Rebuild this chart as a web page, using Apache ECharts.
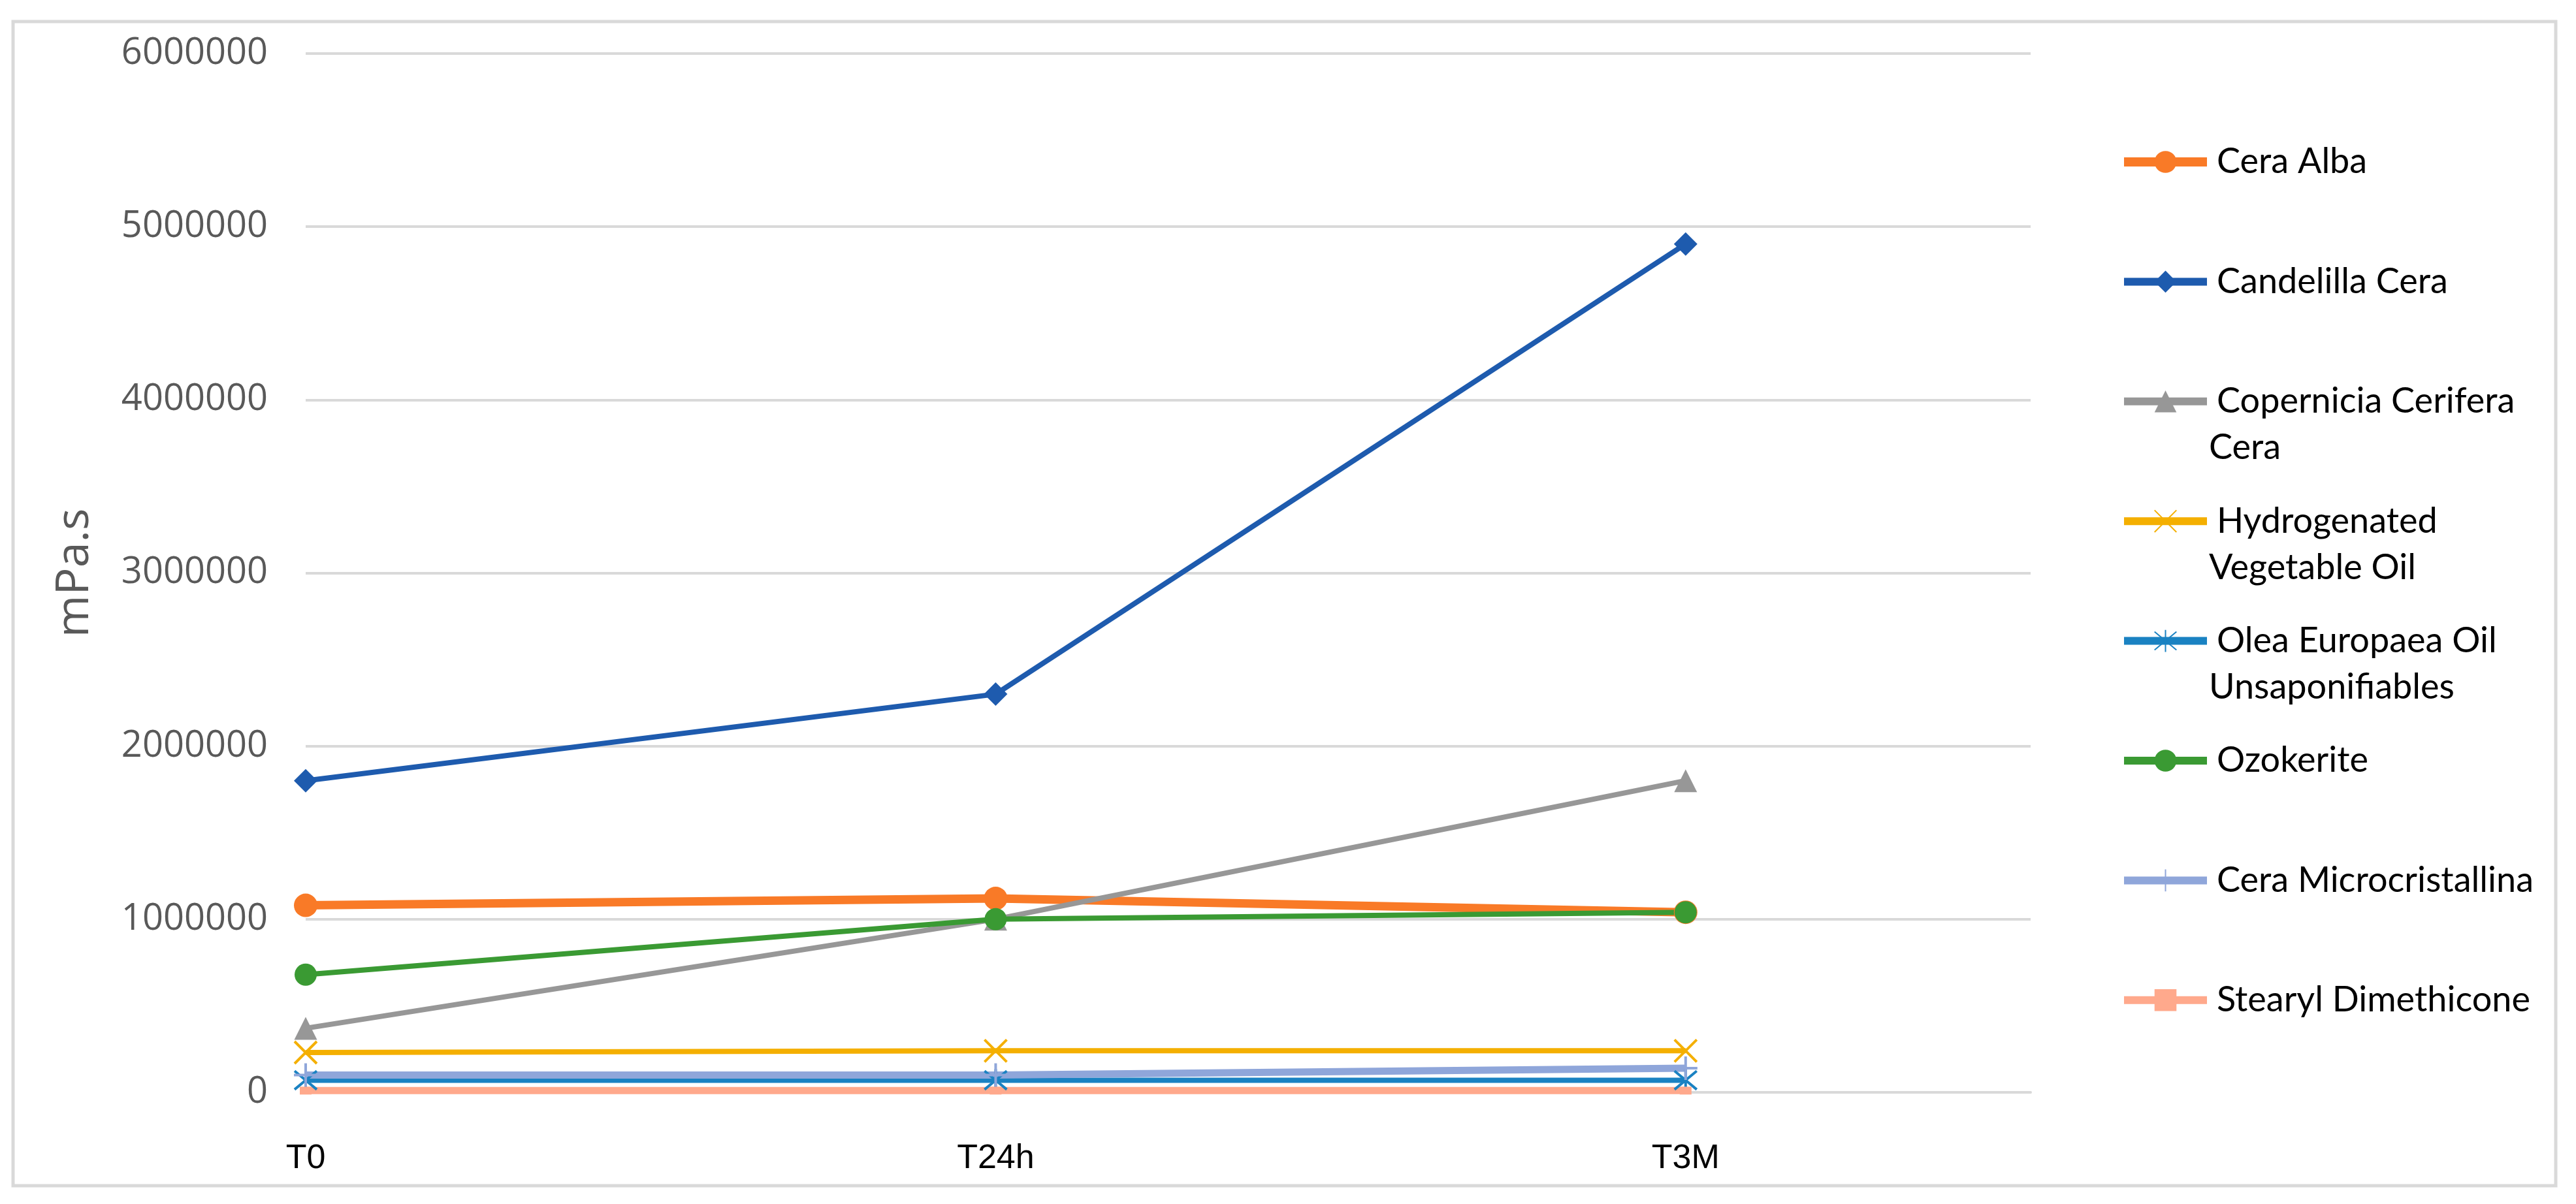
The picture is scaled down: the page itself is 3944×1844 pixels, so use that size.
<!DOCTYPE html>
<html>
<head>
<meta charset="utf-8">
<script src="https://cdn.jsdelivr.net/npm/echarts@6/dist/echarts.min.js"></script>
<style>
  html, body { margin: 0; padding: 0; background: #fff; }
  #chart { width: 3944px; height: 1844px; }
</style>
</head>
<body>
<div id="chart"></div>
<script>
// time points
const categories = ["T0", "T24h", "T3M"];

// viscosity (mPa.s)
const ceraAlba = [1080000, 1120000, 1040000];
const candelillaCera = [1800000, 2300000, 4900000];
const coperniciaCera = [370000, 1000000, 1800000];
const hydrogenatedOil = [230000, 240000, 240000];
const oleaUnsap = [70000, 70000, 70000];
const ozokerite = [680000, 1000000, 1040000];
const ceraMicro = [100000, 100000, 140000];
const stearylDimethicone = [10000, 10000, 10000];

const yTicks = [0, 1000000, 2000000, 3000000, 4000000, 5000000, 6000000];

// legend names that wrap onto a second line
const wrapped = {
  "Copernicia Cerifera Cera": ["Copernicia Cerifera", "Cera"],
  "Hydrogenated Vegetable Oil": ["Hydrogenated", "Vegetable Oil"],
  "Olea Europaea Oil Unsaponifiables": ["Olea Europaea Oil", "Unsaponifiables"],
};

const X_PATH = "path://M0 0L10 10M10 0L0 10";
const STAR_PATH = "path://M0 0L10 10M10 0L0 10M5 -1L5 11";
const PLUS_PATH = "path://M5 0L5 10M0 5L10 5";

function mk(name, values, color, symbol, size, width, border) {
  return {
    name: name,
    type: "line",
    data: values.map((v, i) => [i, v]),
    symbol: symbol,
    symbolSize: size,
    showAllSymbol: true,
    lineStyle: { color: color, width: width },
    itemStyle: { color: color, borderColor: color, borderWidth: border || 0 },
    emphasis: { disabled: true },
  };
}

const series = [
  mk("Cera Alba", ceraAlba, "#F97A27", "circle", 36, 13),
  mk("Candelilla Cera", candelillaCera, "#1E5BAE", "diamond", 36, 8),
  mk("Copernicia Cerifera Cera", coperniciaCera, "#979797", "triangle", 35, 8),
  mk("Hydrogenated Vegetable Oil", hydrogenatedOil, "#F4AF00", X_PATH, 34, 8, 4),
  mk("Olea Europaea Oil Unsaponifiables", oleaUnsap, "#1A82C2", STAR_PATH, 34, 8, 4),
  mk("Ozokerite", ozokerite, "#3A9A33", "circle", 34, 8),
  mk("Cera Microcristallina", ceraMicro, "#8FA6DA", PLUS_PATH, 36, 11, 4),
  mk("Stearyl Dimethicone", stearylDimethicone, "#FFA98C", "rect", [18, 12], 11),
];

const legendTop = 213;
const legendStep = 183.4;
const legendTextX = 3382;

const graphics = [
  {
    type: "rect",
    shape: { x: 20, y: 33, width: 3893, height: 1783 },
    style: { fill: "none", stroke: "#D9D9D9", lineWidth: 5 },
    silent: true,
  },
];
series.forEach((s, i) => {
  const w = wrapped[s.name];
  if (w) {
    graphics.push({
      type: "text",
      x: legendTextX,
      y: legendTop + 30 + i * legendStep + 76,
      style: { text: w[1], font: '54px "Lato"', fill: "#000", verticalAlign: "middle" },
    });
  }
});

const chart = echarts.init(document.getElementById("chart"));
chart.setOption({
  backgroundColor: "#fff",
  animation: false,
  grid: { left: 468, right: 835, top: 82, bottom: 171, containLabel: false },
  xAxis: {
    type: "value",
    min: 0,
    max: 2.5,
    interval: 1,
    axisLine: { show: true, lineStyle: { color: "#D9D9D9", width: 4 } },
    axisTick: { show: false },
    splitLine: { show: false },
    axisLabel: {
      margin: 76,
      fontFamily: "Liberation Sans",
      fontSize: 52,
      color: "#000",
      formatter: (v) => (Number.isInteger(v) ? categories[v] || "" : ""),
    },
  },
  yAxis: {
    type: "value",
    min: yTicks[0],
    max: yTicks[yTicks.length - 1],
    interval: yTicks[1] - yTicks[0],
    name: "mPa.s",
    nameLocation: "middle",
    nameRotate: 90,
    nameGap: 318,
    nameTextStyle: { fontFamily: "Open Sans", fontSize: 70, color: "#595959" },
    axisLine: { show: false },
    axisTick: { show: false },
    splitLine: { lineStyle: { color: "#D9D9D9", width: 4 } },
    axisLabel: {
      margin: 58,
      fontFamily: "Open Sans",
      fontSize: 56,
      color: "#595959",
      formatter: (v) => String(v),
    },
  },
  legend: {
    orient: "vertical",
    left: 3240,
    top: legendTop,
    itemWidth: 127,
    itemHeight: 42,
    itemGap: legendStep - 60,
    selectedMode: false,
    data: series.map((s, i) => ({
      name: s.name,
      lineStyle: { width: i === 0 ? 14 : 12 },
    })),
    formatter: (name) => (wrapped[name] ? wrapped[name][0] : name),
    textStyle: {
      fontFamily: "Lato",
      fontSize: 54,
      color: "#000",
      lineHeight: 60,
      padding: [0, 0, 0, 10],
    },
  },
  graphic: graphics,
  series: series,
});
</script>
</body>
</html>
